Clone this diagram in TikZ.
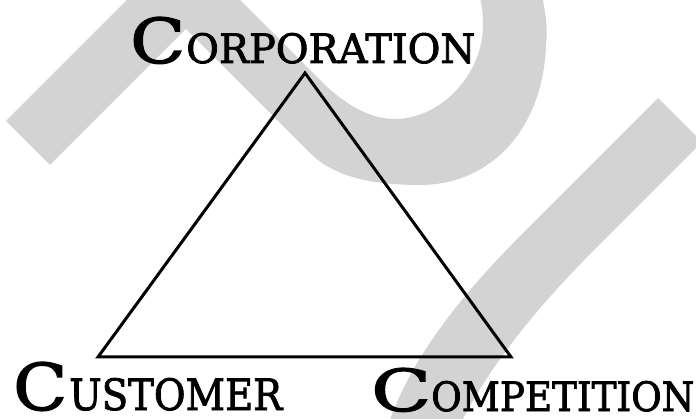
\documentclass[tikz,border=0pt]{standalone}
\usepackage{fontspec}
\setmainfont{DejaVu Serif}
\usepackage{graphicx}
\definecolor{markgray}{RGB}{211,211,211}
% fit a piece of text into a box of given width and height
\newcommand{\capfit}[3]{\resizebox{#1}{#2}{#3}}

\begin{document}
\begin{tikzpicture}[x=1pt,y=-1pt,
  edge/.style={line width=3pt, line join=miter, black},
  wmark/.style={fill=markgray, draw=none},
  caplabel/.style={inner sep=0pt, anchor=base west, font=\addfontfeatures{FakeBold=2}}]
\useasboundingbox (0,0) rectangle (696,419);

% light grey background strokes
\begin{scope}
  \clip (0,0) rectangle (696,419);
  \fill[wmark] (6,121) -- (137,-10) -- (230,-10) -- (320,80)
    .. controls (345,105) and (370,119) .. (395,119)
    .. controls (440,119) and (483,75) .. (483,25)
    .. controls (483,10) and (481,0) .. (478,-10)
    -- (541,-10)
    .. controls (546,15) and (548,30) .. (546,45)
    .. controls (543,130) and (490,185) .. (420,185)
    .. controls (375,185) and (335,178) .. (310,153)
    -- (186,29) -- (50,165) -- cycle;
  \fill[wmark] (658,98) -- (702,142) -- (600,244)
    .. controls (550,294) and (490,360) .. (455,435)
    -- (385,435)
    .. controls (410,350) and (480,276) .. (530,226) -- cycle;
\end{scope}

% the triangle
\coordinate (apex) at (305,73);
\coordinate (bl) at (98,357);
\coordinate (br) at (511,357);
\draw[edge] (apex) -- (bl) -- (br) -- cycle;

% corner labels
\node[caplabel] (corp) at (130,63)
  {\capfit{55pt}{46pt}{C}\hspace{1pt}\capfit{289pt}{30pt}{ORPORATION}};
\node[caplabel] (cust) at (13,410)
  {\capfit{54pt}{48pt}{C}\hspace{2pt}\capfit{213pt}{32pt}{USTOMER}};
\node[caplabel] (comp) at (371,411)
  {\capfit{60pt}{43pt}{C}\capfit{263pt}{30pt}{OMPETITION}};
\end{tikzpicture}
\end{document}
